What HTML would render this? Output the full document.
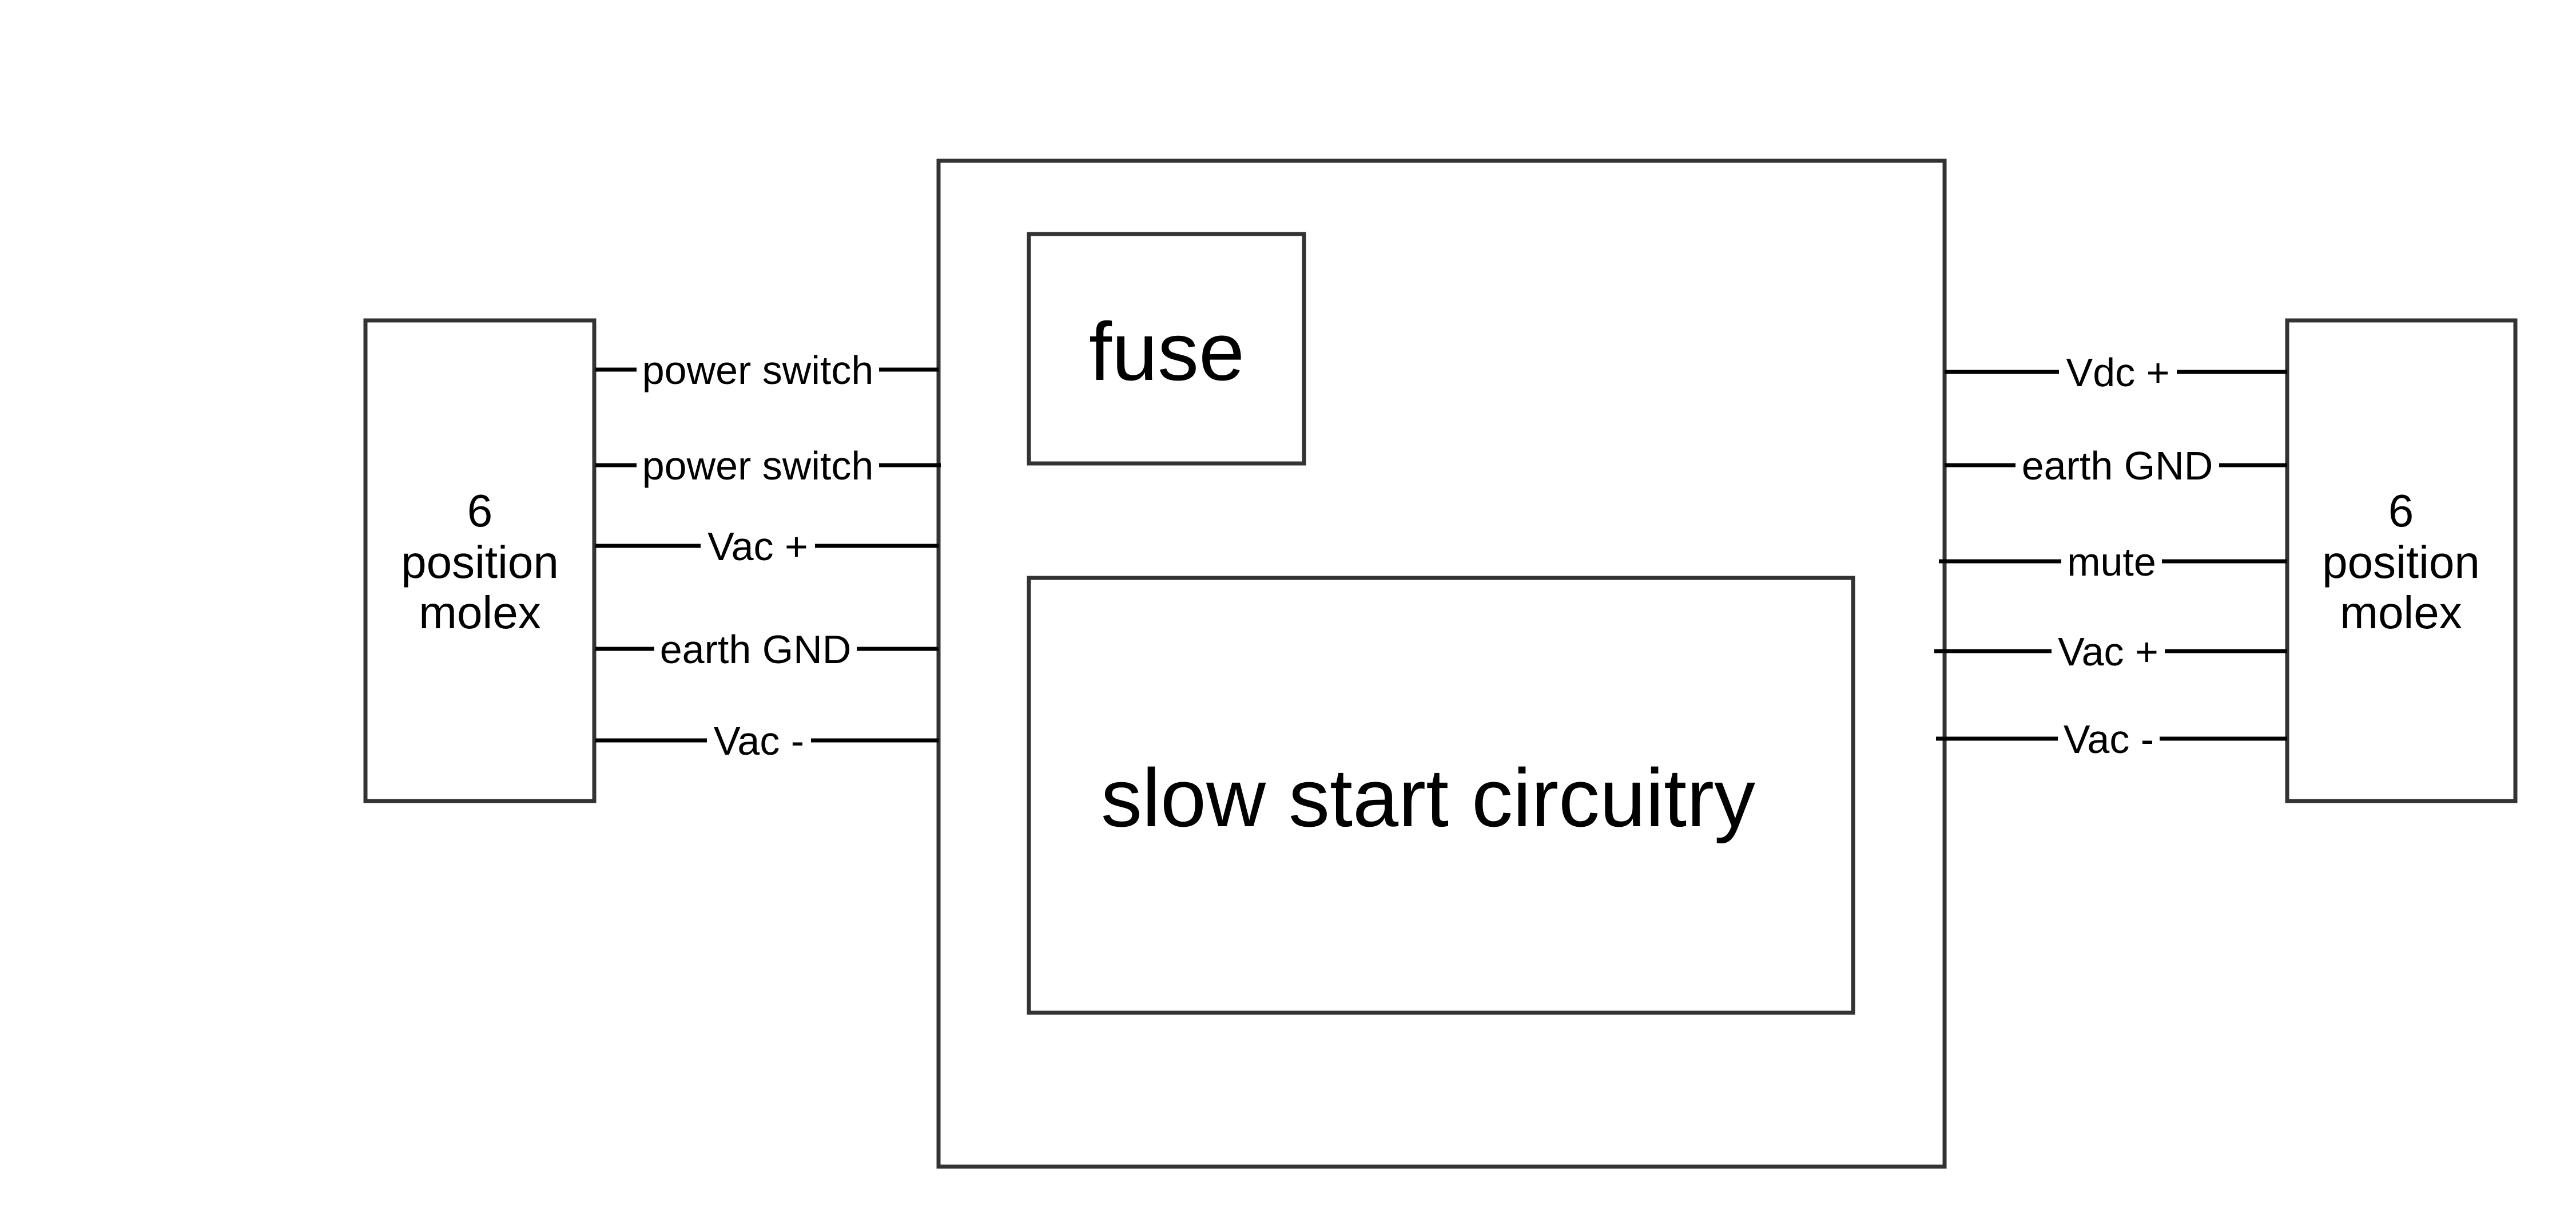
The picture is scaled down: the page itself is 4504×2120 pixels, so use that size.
<!DOCTYPE html>
<html><head><meta charset="utf-8"><style>
html,body{margin:0;padding:0;background:#fff;}
svg{display:block;}
text{font-family:"Liberation Sans",Arial,sans-serif;fill:#000;}
</style></head><body>
<svg width="4504" height="2120" viewBox="0 0 4504 2120" xmlns="http://www.w3.org/2000/svg">
<rect x="0" y="0" width="4504" height="2120" fill="#fff"/>
<g fill="none" stroke="#333" stroke-width="7">
<rect x="639" y="560" width="400" height="840"/>
<rect x="1641" y="281" width="1759" height="1758"/>
<rect x="1799" y="409" width="481" height="401"/>
<rect x="1799" y="1010" width="1441" height="760"/>
<rect x="3999" y="560" width="399" height="840"/>
</g>
<g stroke="#000" stroke-width="7">
<line x1="1041" y1="646" x2="1641" y2="646"/>
<line x1="1041" y1="813" x2="1645" y2="813"/>
<line x1="1041" y1="954" x2="1641" y2="954"/>
<line x1="1041" y1="1134" x2="1641" y2="1134"/>
<line x1="1041" y1="1294" x2="1641" y2="1294"/>
<line x1="3400" y1="650" x2="3999" y2="650"/>
<line x1="3400" y1="813" x2="3999" y2="813"/>
<line x1="3390" y1="981" x2="3999" y2="981"/>
<line x1="3382" y1="1138" x2="3999" y2="1138"/>
<line x1="3385" y1="1291" x2="3999" y2="1291"/>
</g>
<g fill="#fff">
<rect x="1113" y="610" width="424" height="70"/>
<rect x="1113" y="777" width="424" height="70"/>
<rect x="1225" y="918" width="200" height="70"/>
<rect x="1144" y="1098" width="354" height="70"/>
<rect x="1236" y="1258" width="182" height="70"/>
<rect x="3600" y="614" width="206" height="70"/>
<rect x="3524" y="777" width="356" height="70"/>
<rect x="3604" y="945" width="176" height="70"/>
<rect x="3587" y="1102" width="198" height="70"/>
<rect x="3598" y="1255" width="178" height="70"/>
</g>
<g font-size="70" text-anchor="middle">
<text x="1325" y="671">power switch</text>
<text x="1325" y="838">power switch</text>
<text x="1325" y="979">Vac +</text>
<text x="1321" y="1159">earth GND</text>
<text x="1327" y="1319">Vac -</text>
<text x="3703" y="675">Vdc +</text>
<text x="3702" y="838">earth GND</text>
<text x="3692" y="1006">mute</text>
<text x="3686" y="1163">Vac +</text>
<text x="3687" y="1316">Vac -</text>
</g>
<g font-size="80" text-anchor="middle">
<text x="839" y="920">6</text>
<text x="839" y="1010">position</text>
<text x="839" y="1098">molex</text>
<text x="4198" y="920">6</text>
<text x="4198" y="1010">position</text>
<text x="4198" y="1098">molex</text>
</g>
<text x="2040" y="664" font-size="144" text-anchor="middle">fuse</text>
<text x="2497" y="1444" font-size="144" text-anchor="middle">slow start circuitry</text>
</svg>
</body></html>
